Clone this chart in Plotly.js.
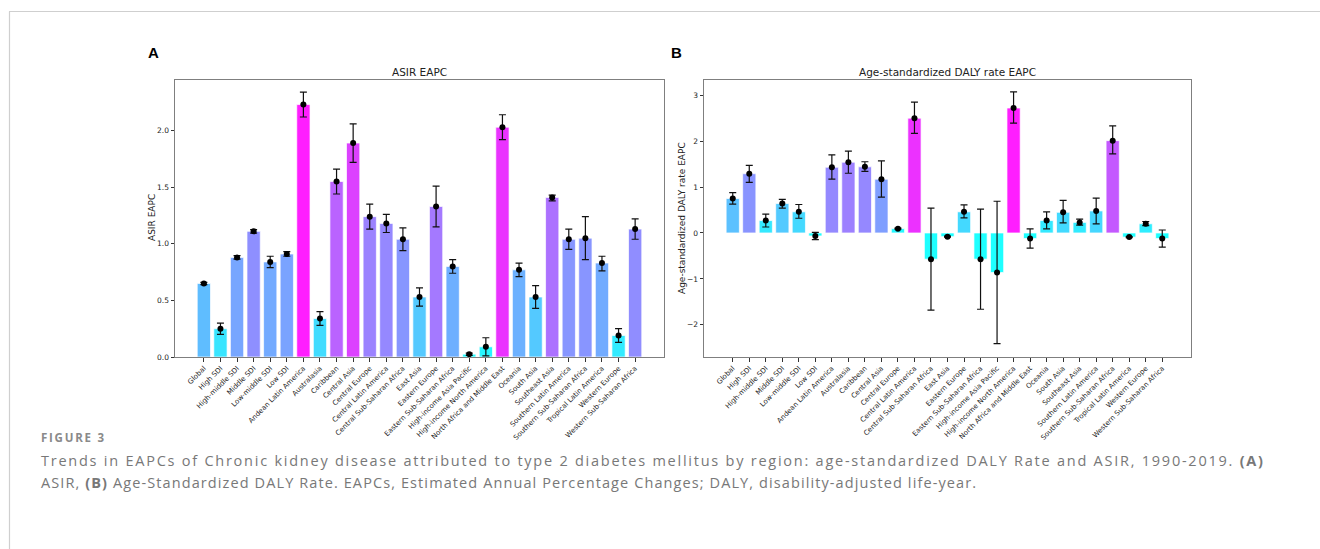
<!DOCTYPE html>
<html>
<head>
<meta charset="utf-8">
<script src="https://cdn.plot.ly/plotly-3.0.1.min.js"></script>
<style>
html,body{margin:0;padding:0;background:#fff;}
#chart{width:1320px;height:549px;}
</style>
</head>
<body>
<div id="chart"></div>
<script>
const regions = ["Global","High SDI","High-middle SDI","Middle SDI","Low-middle SDI","Low SDI",
"Andean Latin America","Australasia","Caribbean","Central Asia","Central Europe","Central Latin America",
"Central Sub-Saharan Africa","East Asia","Eastern Europe","Eastern Sub-Saharan Africa","High-income Asia Pacific",
"High-income North America","North Africa and Middle East","Oceania","South Asia","Southeast Asia",
"Southern Latin America","Southern Sub-Saharan Africa","Tropical Latin America","Western Europe","Western Sub-Saharan Africa"];

// Panel A: ASIR EAPC
const asirValue = [0.65,0.25,0.88,1.11,0.84,0.91,2.23,0.34,1.55,1.89,1.24,1.18,1.04,0.53,1.33,0.80,0.025,0.09,2.03,0.77,0.53,1.41,1.04,1.05,0.83,0.19,1.13];
const asirLower = [0.64,0.20,0.865,1.095,0.79,0.89,2.12,0.28,1.44,1.72,1.13,1.10,0.94,0.45,1.15,0.74,0.015,0.01,1.92,0.71,0.43,1.38,0.95,0.86,0.76,0.13,1.04];
const asirUpper = [0.66,0.30,0.895,1.125,0.89,0.93,2.34,0.40,1.66,2.06,1.35,1.26,1.14,0.61,1.51,0.86,0.035,0.17,2.14,0.83,0.63,1.43,1.13,1.24,0.89,0.25,1.22];

// Panel B: Age-standardized DALY rate EAPC
const dalyValue = [0.75,1.29,0.27,0.64,0.46,-0.065,1.43,1.54,1.44,1.17,0.094,2.50,-0.57,-0.08,0.46,-0.57,-0.86,2.72,-0.12,0.27,0.45,0.23,0.48,2.01,-0.09,0.20,-0.12];
const dalyLower = [0.63,1.10,0.13,0.54,0.32,-0.145,1.17,1.30,1.34,0.78,0.084,2.17,-1.68,-0.09,0.33,-1.66,-2.41,2.39,-0.33,0.09,0.22,0.17,0.20,1.72,-0.10,0.16,-0.31];
const dalyUpper = [0.88,1.47,0.41,0.73,0.62,0.015,1.70,1.78,1.55,1.57,0.104,2.85,0.54,-0.07,0.61,0.52,0.69,3.07,0.09,0.46,0.71,0.30,0.76,2.33,-0.08,0.25,0.065];

const coolScale = [[0,'#00ffff'],[1,'#ff00ff']];
const FONT = 'DejaVu Sans, sans-serif';

function panel(vals, lo, hi, xa, ya){
  const up = vals.map((v,i)=>hi[i]-v);
  const dn = vals.map((v,i)=>v-lo[i]);
  const bars = {
    type:'bar', x:regions, y:vals, xaxis:xa, yaxis:ya, width:0.8,
    marker:{color:vals, colorscale:coolScale, cmin:0, cmax:Math.max(...vals),
            line:{color:'rgba(255,255,255,0.7)', width:1}},
    opacity:0.88, hoverinfo:'x+y', showlegend:false
  };
  const dots = {
    type:'scatter', mode:'markers', x:regions, y:vals, xaxis:xa, yaxis:ya,
    marker:{color:'#000', size:6},
    error_y:{type:'data', symmetric:false, array:up, arrayminus:dn, color:'#111', thickness:1.2, width:3.5},
    showlegend:false, hoverinfo:'skip'
  };
  return [bars, dots];
}

const data = [...panel(asirValue, asirLower, asirUpper, 'x', 'y'),
              ...panel(dalyValue, dalyLower, dalyUpper, 'x2', 'y2')];

const W = 1320, H = 549;
const px = v => v / W, py = v => 1 - v / H;

const axisCommon = {
  showgrid:false, zeroline:false, showline:true, linecolor:'#7f7f7f', linewidth:1, mirror:true,
  ticks:'outside', ticklen:3.5, tickcolor:'#333', tickwidth:1, automargin:false,
  tickfont:{family:FONT, size:7.5, color:'#222'}
};

const CAPFONT = 'Open Sans, sans-serif';
const layout = {
  width:W, height:H, margin:{l:0,r:0,t:0,b:0}, paper_bgcolor:'#fff', plot_bgcolor:'#fff',
  font:{family:FONT},
  xaxis: Object.assign({}, axisCommon, {domain:[px(175), px(664)], anchor:'y', type:'category',
          range:[-1.74, 27.74], tickangle:-45, tickfont:{family:FONT, size:7, color:'#222'}}),
  yaxis: Object.assign({}, axisCommon, {domain:[py(357), py(80)], anchor:'x', range:[0, 2.447],
          dtick:0.5, tickformat:'.1f'}),
  xaxis2: Object.assign({}, axisCommon, {domain:[px(704), px(1191)], anchor:'y2', type:'category',
          range:[-1.74, 27.74], tickangle:-45, tickfont:{family:FONT, size:7, color:'#222'}}),
  yaxis2: Object.assign({}, axisCommon, {domain:[py(357), py(80)], anchor:'x2', range:[-2.70, 3.33],
          dtick:1}),
  shapes:[
    {type:'line', xref:'paper', yref:'paper', x0:px(9), x1:1, y0:py(11.5), y1:py(11.5), line:{color:'#cfcfcf', width:1.2}},
    {type:'line', xref:'paper', yref:'paper', x0:px(9.5), x1:px(9.5), y0:py(11.5), y1:0, line:{color:'#cfcfcf', width:1.2}}
  ],
  annotations:[
    {text:'<b>A</b>', xref:'paper', yref:'paper', x:px(146), y:py(53), xanchor:'left', yanchor:'middle', showarrow:false,
     font:{family:'Liberation Sans, Arial, sans-serif', size:15, color:'#000'}},
    {text:'<b>B</b>', xref:'paper', yref:'paper', x:px(669), y:py(53), xanchor:'left', yanchor:'middle', showarrow:false,
     font:{family:'Liberation Sans, Arial, sans-serif', size:15, color:'#000'}},
    {text:'ASIR EAPC', xref:'paper', yref:'paper', x:px(419.5), y:py(72), xanchor:'center', yanchor:'middle', showarrow:false,
     font:{family:FONT, size:10.5, color:'#222'}},
    {text:'Age-standardized DALY rate EAPC', xref:'paper', yref:'paper', x:px(947.5), y:py(72), xanchor:'center', yanchor:'middle', showarrow:false,
     font:{family:FONT, size:10.5, color:'#222'}},
    {text:'ASIR EAPC', xref:'paper', yref:'paper', x:px(152), y:py(218), xanchor:'center', yanchor:'middle', showarrow:false, textangle:-90,
     font:{family:FONT, size:9, color:'#222'}},
    {text:'Age-standardized DALY rate EAPC', xref:'paper', yref:'paper', x:px(682), y:py(218), xanchor:'center', yanchor:'middle', showarrow:false, textangle:-90,
     font:{family:FONT, size:9, color:'#222'}},
    {text:'<b>FIGURE 3</b>', xref:'paper', yref:'paper', x:px(39), y:py(437), xanchor:'left', yanchor:'middle', showarrow:false, align:'left',
     font:{family:CAPFONT, size:11.5, color:'#8a8a8a'}},
    {text:'Trends in EAPCs of Chronic kidney disease attributed to type 2 diabetes mellitus by region: age-standardized DALY Rate and ASIR, 1990-2019. <b>(A)</b>',
     xref:'paper', yref:'paper', x:px(39), y:py(460), xanchor:'left', yanchor:'middle', showarrow:false, align:'left',
     font:{family:CAPFONT, size:14.5, color:'#787878'}},
    {text:'ASIR, <b>(B)</b> Age-Standardized DALY Rate. EAPCs, Estimated Annual Percentage Changes; DALY, disability-adjusted life-year.',
     xref:'paper', yref:'paper', x:px(39), y:py(482), xanchor:'left', yanchor:'middle', showarrow:false, align:'left',
     font:{family:CAPFONT, size:14.5, color:'#787878'}}
  ]
};

Plotly.newPlot('chart', data, layout, {displayModeBar:false, staticPlot:true}).then(gd => {
  // stretch caption lines to the journal typeface's line lengths
  const targetWidth = {6:63, 7:1222, 8:935};
  gd.querySelectorAll('g.annotation').forEach(g => {
    const idx = g.getAttribute('data-index');
    if (targetWidth[idx]) {
      const t = g.querySelector('text.annotation-text');
      if (t) {
        t.setAttribute('text-anchor','start');
        t.setAttribute('textLength', targetWidth[idx]);
        t.setAttribute('lengthAdjust', 'spacing');
      }
    }
  });
});
</script>
</body>
</html>
